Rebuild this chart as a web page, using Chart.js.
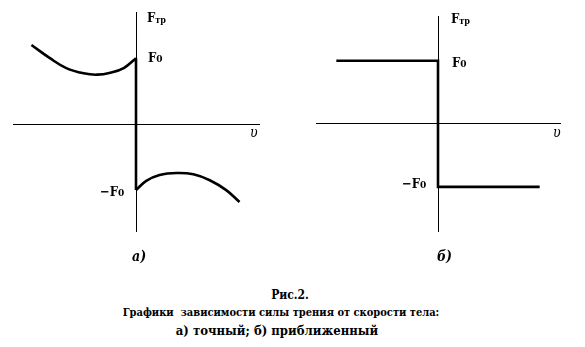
<!DOCTYPE html>
<html>
<head>
<meta charset="utf-8">
<script src="https://cdn.jsdelivr.net/npm/chart.js@4/dist/chart.umd.min.js"></script>
<style>
  body { margin: 0; background: #fff; }
  #wrap { position: relative; width: 585px; height: 347px; overflow: hidden; font-family: "DejaVu Serif Condensed", "DejaVu Serif", serif; color: #000; }
  canvas { position: absolute; top: 0; }
  .lbl { position: absolute; font-weight: bold; font-size: 13px; line-height: 13px; white-space: nowrap; }
  .lbl .sub { font-size: 10px; }
  .lbl .low { font-size: 9px; position: relative; top: 1px; }
  .axv { position: absolute; font-style: italic; font-size: 14px; line-height: 14px; }
  .part { position: absolute; font-style: italic; font-weight: bold; font-size: 14px; line-height: 14px; }
  .cap { position: absolute; width: 580px; text-align: center; font-weight: bold; font-size: 12px; line-height: 18px; }
</style>
</head>
<body>
<div id="wrap">
  <canvas id="chartA" width="292" height="250" style="left:0"></canvas>
  <canvas id="chartB" width="293" height="250" style="left:292px"></canvas>

  <div class="lbl" style="left:147px; top:11px">F<span class="low">тр</span></div>
  <div class="lbl" style="left:148px; top:51px">F<span class="sub">0</span></div>
  <div class="lbl" style="left:100px; top:185px">−F<span class="sub">0</span></div>
  <div class="axv" style="left:250px; top:125px">υ</div>
  <div class="part" style="left:132px; top:249px">а)</div>

  <div class="lbl" style="left:451px; top:12px">F<span class="low">тр</span></div>
  <div class="lbl" style="left:452px; top:56px">F<span class="sub">0</span></div>
  <div class="lbl" style="left:402px; top:177px">−F<span class="sub">0</span></div>
  <div class="axv" style="left:553px; top:125px">υ</div>
  <div class="part" style="left:437px; top:249px">б)</div>

  <div class="cap" style="top:286px; left:0">Рис.2.</div>
  <div class="cap" style="top:304px; left:-9px; font-size:11px">Графики&nbsp; зависимости силы трения от скорости тела:</div>
  <div class="cap" style="top:322px; left:-13px; font-size:13px">а) точный; б) приближенный</div>
</div>
<script>
// а) exact dependence: F(v) / F0
const exactLeftV = [-1.02, -0.84, -0.68, -0.51, -0.38, -0.25, -0.12, 0];
const exactLeftF = [1.20, 1.00, 0.85, 0.77, 0.75, 0.78, 0.85, 1.0];
const exactRightV = [0, 0.10, 0.23, 0.40, 0.56, 0.72, 0.88, 1.01];
const exactRightF = [-1.0, -0.86, -0.77, -0.74, -0.76, -0.85, -1.0, -1.18];

// б) approximate dependence
const approxV = [-1, 0, 0, 1];
const approxF = [1, 1, -1, -1];

const F0 = 1;

const toPoints = (xs, ys) => xs.map((x, i) => ({ x: x, y: ys[i] }));

const lineSet = (data, tension) => ({
  data: data,
  borderColor: "#000",
  borderWidth: 2.6,
  pointRadius: 0,
  tension: tension,
  clip: false,
});

const axisOpts = (min, max, pos) => ({
  type: "linear",
  min: min,
  max: max,
  position: pos,
  grid: { display: false },
  ticks: { display: false },
  border: { display: true, color: "#000", width: 1 },
});

const makeChart = (id, datasets, xr, yr, padding) => {
  new Chart(document.getElementById(id), {
    type: "line",
    data: { datasets: datasets },
    options: {
      responsive: false,
      animation: false,
      devicePixelRatio: 1,
      layout: { padding: padding },
      plugins: { legend: { display: false }, tooltip: { enabled: false } },
      scales: {
        x: axisOpts(xr[0], xr[1], { y: 0 }),
        y: axisOpts(yr[0], yr[1], { x: 0 }),
      },
    },
  });
};

makeChart(
  "chartA",
  [
    lineSet(toPoints(exactLeftV, exactLeftF), 0.4),
    lineSet([{ x: 0, y: F0 }, { x: 0, y: -F0 }], 0),
    lineSet(toPoints(exactRightV, exactRightF), 0.4),
  ],
  [-1.2, 1.2],
  [-1.62, 1.70],
  { left: 13, top: 12, right: 33, bottom: 19 }
);

makeChart(
  "chartB",
  [lineSet(toPoints(approxV, approxF), 0)],
  [-1.2, 1.2],
  [-1.70, 1.71],
  { left: 24, top: 16, right: 25, bottom: 19 }
);
</script>
</body>
</html>
